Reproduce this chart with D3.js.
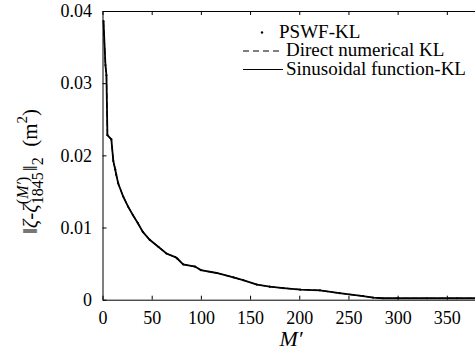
<!DOCTYPE html>
<html>
<head>
<meta charset="utf-8">
<script src="https://cdn.jsdelivr.net/npm/d3@7"></script>
</head>
<body style="margin:0;background:#fff">
<svg id="chart" width="475" height="354"></svg>
<script>
// truncation order M' and the L2 error (the three methods overlap)
const mOrder = [1, 3, 4, 5, 9, 11, 13, 14, 16, 21, 26, 31, 36, 41, 48, 57, 65, 74, 76, 82, 94, 100, 116, 133, 143, 157, 170, 184, 201, 221, 241, 265, 275, 285, 300, 330, 360, 390];
const errSinusoidal = [0.0386, 0.0325, 0.0311, 0.0228, 0.0222, 0.0192, 0.0180, 0.0173, 0.0161, 0.0143, 0.0129, 0.0117, 0.0106, 0.0094, 0.0083, 0.0073, 0.0064, 0.0059, 0.0057, 0.0049, 0.0046, 0.0041, 0.0037, 0.0031, 0.0027, 0.0021, 0.0018, 0.0016, 0.0014, 0.0013, 0.0009, 0.0005, 0.0003, 0.0002, 0.0002, 0.0002, 0.0002, 0.0002];
const errDirect = [0.0386, 0.0324, 0.0311, 0.0228, 0.0222, 0.0192, 0.0180, 0.0173, 0.0161, 0.0143, 0.0129, 0.0117, 0.0106, 0.0094, 0.0083, 0.0073, 0.0064, 0.0059, 0.0057, 0.0049, 0.0046, 0.0041, 0.0037, 0.0031, 0.0027, 0.0021, 0.0018, 0.0016, 0.0014, 0.0013, 0.0009, 0.0005, 0.0003, 0.0002, 0.0002, 0.0002, 0.0002, 0.0002];
const errPSWF = [0.0386, 0.0325, 0.0311, 0.0228, 0.0222, 0.0192, 0.0180, 0.0173, 0.0161, 0.0143, 0.0129, 0.0117, 0.0106, 0.0094, 0.0083, 0.0073, 0.0064, 0.0059, 0.0057, 0.0049, 0.0046, 0.0041, 0.0037, 0.0031, 0.0027, 0.0021, 0.0018, 0.0016, 0.0014, 0.0013, 0.0009, 0.0005, 0.0003, 0.0002, 0.0002, 0.0002, 0.0002, 0.0002];

const xTicks = [0, 50, 100, 150, 200, 250, 300, 350, 400];
const yTicks = [0, 0.01, 0.02, 0.03, 0.04];
const legendLabels = ['PSWF-KL', 'Direct numerical KL', 'Sinusoidal function-KL'];

const FONT = '"Liberation Serif", serif';

const svg = d3.select('#chart');
const margin = { top: 11, left: 102.5, bottom: 54.3 };
const height = 354 - margin.top - margin.bottom;

const x = d3.scaleLinear().domain([0, 400]).range([margin.left, 496]);
const y = d3.scaleLinear().domain([0, 0.04]).range([margin.top + height, margin.top]);

// axes, ticks pointing inwards
const gx = svg.append('g')
    .attr('transform', `translate(0,${y(0)})`)
    .call(d3.axisBottom(x).tickValues(xTicks).tickSize(-4).tickSizeOuter(0).tickPadding(12));

svg.append('g')
    .attr('transform', `translate(0,${y(0.04)})`)
    .call(d3.axisTop(x).tickValues(xTicks).tickSize(-4).tickSizeOuter(0).tickFormat(''));

const gy = svg.append('g')
    .attr('transform', `translate(${x(0)},0)`)
    .call(d3.axisLeft(y).tickValues(yTicks).tickSize(-4).tickSizeOuter(0).tickPadding(10.5)
        .tickFormat(d => (d === 0 ? '0' : d.toFixed(2))));

[gx, gy].forEach(g => g.selectAll('.tick text')
    .style('font-family', FONT).style('font-size', '18px').attr('fill', '#000'));
svg.selectAll('.domain, .tick line').attr('stroke', '#000');
// the 400 label sits past the right edge of the window
gx.selectAll('.tick').filter(d => d === 400).select('text').remove();

// series
const pts = arr => mOrder.map((m, i) => [m, arr[i]]);
const line = d3.line().x(d => x(d[0])).y(d => y(d[1]));

svg.append('path')
    .datum(pts(errSinusoidal))
    .attr('d', line)
    .attr('fill', 'none')
    .attr('stroke', '#000')
    .attr('stroke-width', 1.8);

svg.append('path')
    .datum(pts(errDirect))
    .attr('d', line)
    .attr('fill', 'none')
    .attr('stroke', '#000')
    .attr('stroke-width', 1.2)
    .attr('stroke-dasharray', '6,3');

svg.append('g')
    .selectAll('circle')
    .data(pts(errPSWF))
    .join('circle')
    .attr('cx', d => x(d[0]))
    .attr('cy', d => y(d[1]))
    .attr('r', 1.1)
    .attr('fill', '#000');

// legend
const legend = svg.append('g').attr('transform', 'translate(243,0)');
const rowY = [32.5, 51, 69.5];
legend.append('circle').attr('cx', 19).attr('cy', rowY[0]).attr('r', 1.2).attr('fill', '#000');
legend.append('line').attr('x1', 0).attr('x2', 40).attr('y1', rowY[1]).attr('y2', rowY[1])
    .attr('stroke', '#000').attr('stroke-width', 1).attr('stroke-dasharray', '6,4');
legend.append('line').attr('x1', 0).attr('x2', 40).attr('y1', rowY[2]).attr('y2', rowY[2])
    .attr('stroke', '#000').attr('stroke-width', 1);
legend.selectAll('text.lg')
    .data(legendLabels)
    .join('text')
    .attr('class', 'lg')
    .attr('x', (d, i) => (i === 0 ? 36 : 43))
    .attr('y', (d, i) => rowY[i] + 5)
    .style('font-family', FONT)
    .style('font-size', '19px')
    .text(d => d);

// x label
svg.append('text')
    .attr('x', 291)
    .attr('y', 346)
    .attr('text-anchor', 'middle')
    .style('font-family', FONT)
    .style('font-size', '22px')
    .style('font-style', 'italic')
    .text('M\u2032');

// y label, built piece by piece so the super/subscripts can stack
const yl = svg.append('g');
let cx = 0;
function piece(txt, size, dy, italic, advance = true) {
    const t = yl.append('text')
        .attr('x', cx).attr('y', dy)
        .style('font-family', FONT)
        .style('font-size', size + 'px')
        .style('font-style', italic ? 'italic' : 'normal')
        .text(txt);
    const w = t.node().getComputedTextLength();
    if (advance) cx += w;
    return t;
}
piece('\u2016', 21, 0, false);
piece('\u03b6-\u03b6', 21, 0, true);
const start = cx;
const sup = piece('', 16, -9, false, false);
sup.append('tspan').text('(');
sup.append('tspan').style('font-style', 'italic').text('M\u2032');
sup.append('tspan').text(')');
const wSup = sup.node().getComputedTextLength();
const sub = piece('1845', 16, 6, false, false);
const wSub = sub.node().getComputedTextLength();
cx = start + Math.max(wSup, wSub) + 1;
piece('\u2016', 21, 0, false);
piece('2', 16, 6, false);
piece('\u2002(m', 21, 0, false);
piece('2', 15, -10, false);
piece(')', 21, 0, false);
yl.attr('transform', `translate(37,${171.5 + cx / 2}) rotate(-90)`);
</script>
</body>
</html>
